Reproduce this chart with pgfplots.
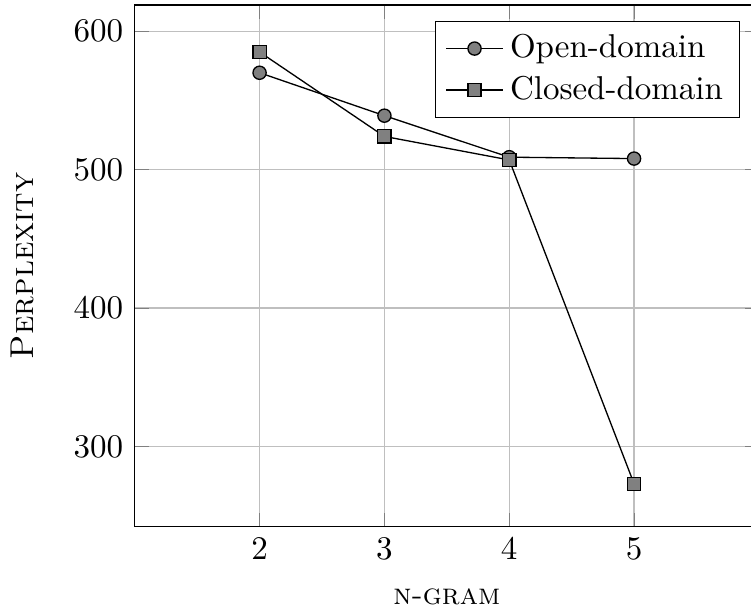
\documentclass[border=0pt]{standalone}
\usepackage{pgfplots}
\pgfplotsset{compat=1.18}
\begin{document}
\begin{tikzpicture}
\begin{axis}[name=ax,
  scale only axis,
  width=189pt, height=158pt,
  xmin=1, xmax=6,
  ymin=242, ymax=619,
  xtick={2,3,4,5},
  ytick={300,400,500,600},
  grid=major,
  major grid style={gray!50},
  xlabel={\small\textsc{n-gram}},
  xlabel style={yshift=-2pt},
  ylabel={\textsc{Perplexity}},
  ylabel style={yshift=5pt},
  legend pos=north east,
  legend cell align=left,
  every axis plot/.append style={black, mark size=2pt, mark options={fill=black!50}},
]
\addplot[mark=*] coordinates {(2,570) (3,539) (4,509) (5,508)};
\addlegendentry{Open-domain}
\addplot[mark=square*] coordinates {(2,585) (3,524) (4,507) (5,273)};
\addlegendentry{Closed-domain}
\end{axis}
\pgfresetboundingbox
\path[use as bounding box] ([xshift=-40.8pt,yshift=-24.2pt]ax.south west) rectangle ([xshift=-2.4pt,yshift=1.5pt]ax.north east);
\end{tikzpicture}
\end{document}
